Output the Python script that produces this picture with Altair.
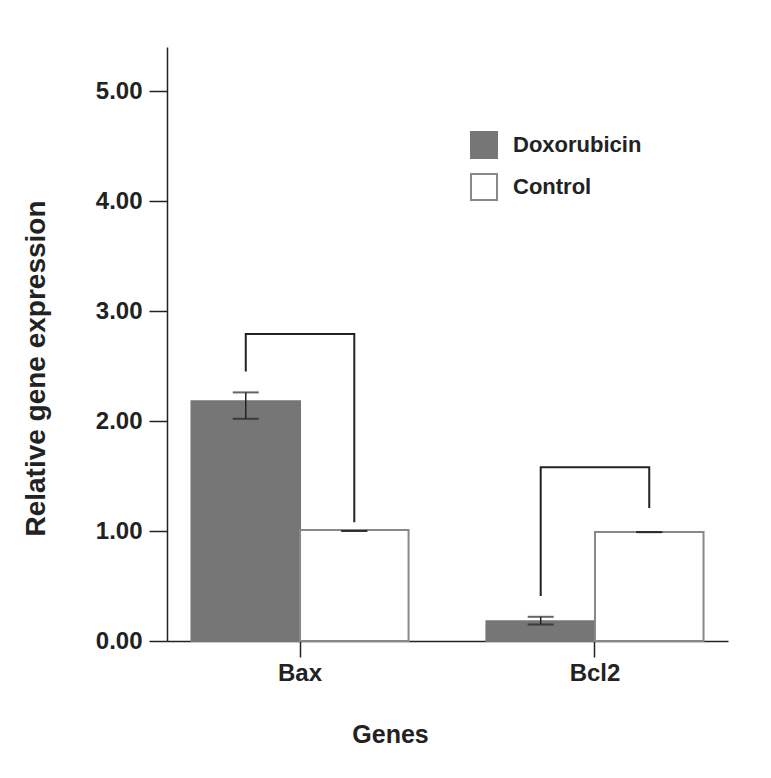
import altair as alt
import pandas as pd

genes = ["Bax", "Bcl2"]
groups = ["Doxorubicin", "Control"]
dox_mean = [2.18, 0.18]
dox_low = [2.02, 0.15]
dox_high = [2.26, 0.22]
ctrl_mean = [1.01, 0.99]
ctrl_low = [1.00, 0.99]
ctrl_high = [1.00, 0.99]
# significance brackets: left start, top, right end
br_left = [2.45, 0.41]
br_top = [2.79, 1.58]
br_right = [1.08, 1.21]

rows = []
for i, g in enumerate(genes):
    rows.append(dict(gene=g, group="Doxorubicin", mean=dox_mean[i], low=dox_low[i], high=dox_high[i]))
    rows.append(dict(gene=g, group="Control", mean=ctrl_mean[i], low=ctrl_low[i], high=ctrl_high[i]))
df = pd.DataFrame(rows)

brows = []
for i, g in enumerate(genes):
    brows.append(dict(gene=g, group="Doxorubicin", y=br_left[i], step=0))
    brows.append(dict(gene=g, group="Doxorubicin", y=br_top[i], step=1))
    brows.append(dict(gene=g, group="Control", y=br_top[i], step=2))
    brows.append(dict(gene=g, group="Control", y=br_right[i], step=3))
bdf = pd.DataFrame(brows)

FONT = "Liberation Sans"
DARK = "#222222"

xenc = alt.X("gene:N", sort=genes,
             scale=alt.Scale(paddingInner=0.264, paddingOuter=0.083),
             axis=alt.Axis(title="Genes", labelAngle=0, labelFont=FONT, labelFontSize=24,
                           labelFontWeight="bold", labelColor=DARK, labelPadding=4,
                           titleFont=FONT, titleFontSize=25, titleFontWeight="bold",
                           titleColor=DARK, titleX=223, titleY=93, titleBaseline="middle",
                           titleAnchor="start", titleAlign="center",
                           tickSize=16, tickColor=DARK, tickWidth=1.5,
                           domainColor=DARK, domainWidth=1.5))
xoff = alt.XOffset("group:N", sort=groups, scale=alt.Scale(paddingInner=0, paddingOuter=0))
yscale = alt.Scale(domain=[0, 5.4], nice=False)
yaxis = alt.Axis(title="Relative gene expression", values=[0, 1, 2, 3, 4, 5], format=".2f",
                 labelFont=FONT, labelFontSize=24, labelFontWeight="bold", labelColor=DARK,
                 labelPadding=7, tickSize=18, tickColor=DARK, tickWidth=1.5,
                 domainColor=DARK, domainWidth=1.5, grid=False,
                 titleFont=FONT, titleFontSize=28, titleFontWeight="bold", titleColor=DARK,
                 titleX=-131, titleY=321, titleBaseline="middle", titleAlign="center",
                 titleAnchor="start")

bars = alt.Chart(df).mark_bar(strokeWidth=2).encode(
    x=xenc,
    xOffset=xoff,
    y=alt.Y("mean:Q", scale=yscale, axis=yaxis),
    fill=alt.Fill("group:N", sort=groups,
                  scale=alt.Scale(domain=groups, range=["#767676", "#ffffff"]),
                  legend=alt.Legend(title=None, orient="none", legendX=303, legendY=84,
                                    symbolType="square", symbolSize=676, symbolStrokeWidth=2,
                                    labelFont=FONT, labelFontSize=22, labelFontWeight="bold",
                                    labelColor=DARK, labelOffset=15, rowPadding=8)),
    stroke=alt.Stroke("group:N", sort=groups,
                      scale=alt.Scale(domain=groups, range=["#767676", "#888888"]),
                      legend=None),
)

err = alt.Chart(df).mark_rule(color=DARK, strokeWidth=1.5).encode(
    x=alt.X("gene:N", sort=genes), xOffset=xoff,
    y=alt.Y("low:Q", scale=yscale), y2="high:Q")
cap_lo = alt.Chart(df).mark_tick(color=DARK, size=26, thickness=2).encode(
    x=alt.X("gene:N", sort=genes), xOffset=xoff, y=alt.Y("low:Q", scale=yscale))
cap_hi = alt.Chart(df).mark_tick(color=DARK, size=26, thickness=2).encode(
    x=alt.X("gene:N", sort=genes), xOffset=xoff, y=alt.Y("high:Q", scale=yscale))

brackets = alt.Chart(bdf).mark_line(color=DARK, strokeWidth=2, interpolate="linear").encode(
    x=alt.X("gene:N", sort=genes), xOffset=alt.XOffset("group:N", sort=groups),
    y=alt.Y("y:Q", scale=yscale), detail="gene:N", order="step:Q")

chart = alt.layer(bars, err, cap_lo, cap_hi, brackets).properties(
    width=561, height=594,
    background="white",
    autosize=alt.AutoSizeParams(type="none"),
    padding={"left": 159, "top": 39, "right": 20, "bottom": 120},
).configure_view(stroke="transparent", strokeWidth=0)

chart.save("out.html", embed_options={"renderer": "svg", "actions": False})
